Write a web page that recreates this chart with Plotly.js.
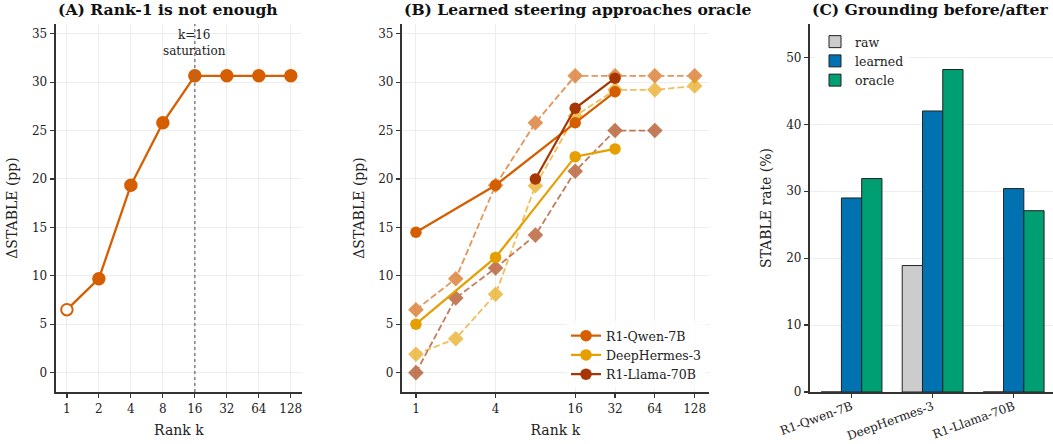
<!DOCTYPE html>
<html><head><meta charset="utf-8">
<script src="https://cdn.plot.ly/plotly-3.0.1.min.js"></script>
<style>html,body{margin:0;padding:0;background:#fff}#chart{width:1053px;height:444px}</style>
</head><body><div id="chart"></div>
<script>
// ---- Data ----
const ranksAll = [1, 2, 4, 8, 16, 32, 64, 128];
const rankTicksA = [1, 2, 4, 8, 16, 32, 64, 128];
const rankTicksB = [1, 4, 16, 32, 64, 128];
const saturationK = 16;

// Panel A: Rank sweep (R1-Qwen-7B)
const rankSweep = [6.5, 9.7, 19.35, 25.8, 30.65, 30.65, 30.65, 30.65];

// Panel B: learned steering
const qwenLearnedK = [1, 4, 16, 32];
const qwenLearned = [14.5, 19.35, 25.8, 29.0];
const hermesLearnedK = [1, 4, 16, 32];
const hermesLearned = [5.0, 11.9, 22.3, 23.1];
const llamaLearnedK = [8, 16, 32];
const llamaLearned = [20.0, 27.3, 30.4];

// Panel B: oracle (dashed)
const qwenOracleK = [1, 2, 4, 8, 16, 32, 64, 128];
const qwenOracle = [6.5, 9.7, 19.35, 25.8, 30.65, 30.65, 30.65, 30.65];
const hermesOracleK = [1, 2, 4, 8, 16, 32, 64, 128];
const hermesOracle = [1.9, 3.5, 8.1, 19.3, 26.5, 29.2, 29.2, 29.6];
const llamaOracleK = [1, 2, 4, 8, 16, 32, 64];
const llamaOracle = [0.0, 7.7, 10.8, 14.2, 20.8, 25.0, 25.0];

// Panel C: grounding
const models = ['R1-Qwen-7B', 'DeepHermes-3', 'R1-Llama-70B'];
const rawRate = [0, 18.9, 0];
const learnedRate = [29.0, 42.0, 30.4];
const oracleRate = [31.9, 48.2, 27.1];

// ---- Style ----
const C_QWEN = '#d55e00', C_HERM = '#e69f00', C_LLAMA = '#a63603';
const FONT = 'DejaVu Serif';
const AX = '#333333', GRID = '#e8e8e8';

const W = 1053, H = 444;
const px = v => v / W;
const py = v => (H - v) / H;
const yDom = [py(392), py(24)];

const traces = [];
// Panel A
traces.push({
  x: ranksAll, y: rankSweep, xaxis: 'x', yaxis: 'y', mode: 'lines+markers', showlegend: false,
  line: {color: C_QWEN, width: 2.3},
  marker: {size: 11.5, color: rankSweep.map((v, i) => i === 0 ? '#ffffff' : C_QWEN), line: {color: C_QWEN, width: 2}}
});
// Panel B oracle
function oracle(x, y, c) {
  return {x: x, y: y, xaxis: 'x2', yaxis: 'y2', mode: 'lines+markers', showlegend: false, opacity: 0.65,
    line: {color: c, width: 1.8, dash: '6.5px,3px'}, marker: {symbol: 'diamond', size: 12, color: c}};
}
traces.push(oracle(qwenOracleK, qwenOracle, C_QWEN));
traces.push(oracle(hermesOracleK, hermesOracle, C_HERM));
traces.push(oracle(llamaOracleK, llamaOracle, C_LLAMA));
function learned(x, y, c, name) {
  return {x: x, y: y, name: name, xaxis: 'x2', yaxis: 'y2', mode: 'lines+markers', legend: 'legend',
    line: {color: c, width: 2.2}, marker: {size: 11.5, color: c}};
}
traces.push(learned(qwenLearnedK, qwenLearned, C_QWEN, 'R1-Qwen-7B'));
traces.push(learned(hermesLearnedK, hermesLearned, C_HERM, 'DeepHermes-3'));
traces.push(learned(llamaLearnedK, llamaLearned, C_LLAMA, 'R1-Llama-70B'));
// Panel C
function bar(y, c, name) {
  return {type: 'bar', x: models, y: y, name: name, xaxis: 'x3', yaxis: 'y3', legend: 'legend2',
    marker: {color: c, line: {color: '#222222', width: 1}}};
}
traces.push(bar(rawRate, '#cccccc', 'raw'));
traces.push(bar(learnedRate, '#0072b2', 'learned'));
traces.push(bar(oracleRate, '#009e73', 'oracle'));

const tickFont = {family: FONT, size: 12, color: '#222'};
const labFont = {family: FONT, size: 14, color: '#222'};
const axBase = {showline: true, linecolor: AX, linewidth: 1.6, ticks: 'outside', ticklen: 4.5, tickwidth: 1.2,
  tickcolor: AX, tickfont: tickFont, gridcolor: GRID, gridwidth: 0.8, zeroline: false, automargin: false};

const layout = {
  width: W, height: H, margin: {l: 0, r: 0, t: 0, b: 0}, paper_bgcolor: '#fff', plot_bgcolor: '#fff',
  font: {family: FONT, color: '#222'},
  barmode: 'group', bargap: 0.25, bargroupgap: 0,
  xaxis: Object.assign({}, axBase, {domain: [px(55.7), px(302)], anchor: 'y', type: 'log',
    range: [Math.log10(Math.pow(2, -0.35)), Math.log10(Math.pow(2, 7.35))],
    tickvals: rankTicksA, ticktext: rankTicksA.map(String), showgrid: true,
    title: {text: 'Rank k', font: labFont, standoff: 10}}),
  yaxis: Object.assign({}, axBase, {domain: yDom, anchor: 'x', range: [-2, 36], tickvals: [0,5,10,15,20,25,30,35],
    showgrid: true, title: {text: 'ΔSTABLE (pp)', font: labFont, standoff: 11}}),
  xaxis2: Object.assign({}, axBase, {domain: [px(402), px(708.6)], anchor: 'y2', type: 'log',
    range: [Math.log10(Math.pow(2, -0.35)), Math.log10(Math.pow(2, 7.35))],
    tickvals: rankTicksB, ticktext: rankTicksB.map(String), showgrid: true,
    title: {text: 'Rank k', font: labFont, standoff: 10}}),
  yaxis2: Object.assign({}, axBase, {domain: yDom, anchor: 'x2', range: [-2, 36], tickvals: [0,5,10,15,20,25,30,35],
    showgrid: true, title: {text: 'ΔSTABLE (pp)', font: labFont, standoff: 10}}),
  xaxis3: Object.assign({}, axBase, {domain: [px(810), 1], anchor: 'y3', type: 'category',
    range: [-0.5125, 2.485], showgrid: false, tickangle: -20, ticklabelstandoff: -3,
    tickfont: {family: FONT, size: 12, color: '#222'}}),
  yaxis3: Object.assign({}, axBase, {domain: yDom, anchor: 'x3', range: [0, 55], tickvals: [0,10,20,30,40,50],
    showgrid: true, title: {text: 'STABLE rate (%)', font: labFont, standoff: 11}}),
  legend: {x: px(706), y: py(389), xanchor: 'right', yanchor: 'bottom', bgcolor: 'rgba(255,255,255,0.8)',
    font: {family: FONT, size: 12.5, color: '#222'}, tracegroupgap: 0, itemwidth: 30},
  legend2: {x: px(815), y: py(27), xanchor: 'left', yanchor: 'top', bgcolor: 'rgba(255,255,255,0.8)',
    font: {family: FONT, size: 12.5, color: '#222'}, traceorder: 'normal'},
  shapes: [{type: 'line', xref: 'x', yref: 'paper', x0: saturationK, x1: saturationK, y0: yDom[0], y1: yDom[1],
    line: {color: '#777', width: 1.4, dash: 'dot'}}],
  annotations: [
    {text: '<b>(A) Rank-1 is not enough</b>', xref: 'paper', yref: 'paper', x: px(56), y: py(-2), xanchor: 'left', yanchor: 'top',
      showarrow: false, font: {family: FONT, size: 15.6, color: '#111'}},
    {text: '<b>(B) Learned steering approaches oracle</b>', xref: 'paper', yref: 'paper', x: px(402), y: py(-2), xanchor: 'left', yanchor: 'top',
      showarrow: false, font: {family: FONT, size: 15.6, color: '#111'}},
    {text: '<b>(C) Grounding before/after</b>', xref: 'paper', yref: 'paper', x: px(810), y: py(-2), xanchor: 'left', yanchor: 'top',
      showarrow: false, font: {family: FONT, size: 15.6, color: '#111'}},
    {text: 'k=16<br>saturation', xref: 'x', yref: 'y', x: Math.log10(saturationK), y: 34.0, xanchor: 'center', yanchor: 'middle',
      showarrow: false, font: {family: FONT, size: 12, color: '#222'}, bgcolor: 'rgba(255,255,255,0)'}
  ]
};

Plotly.newPlot('chart', traces, layout, {displayModeBar: false, staticPlot: true});
</script></body></html>
